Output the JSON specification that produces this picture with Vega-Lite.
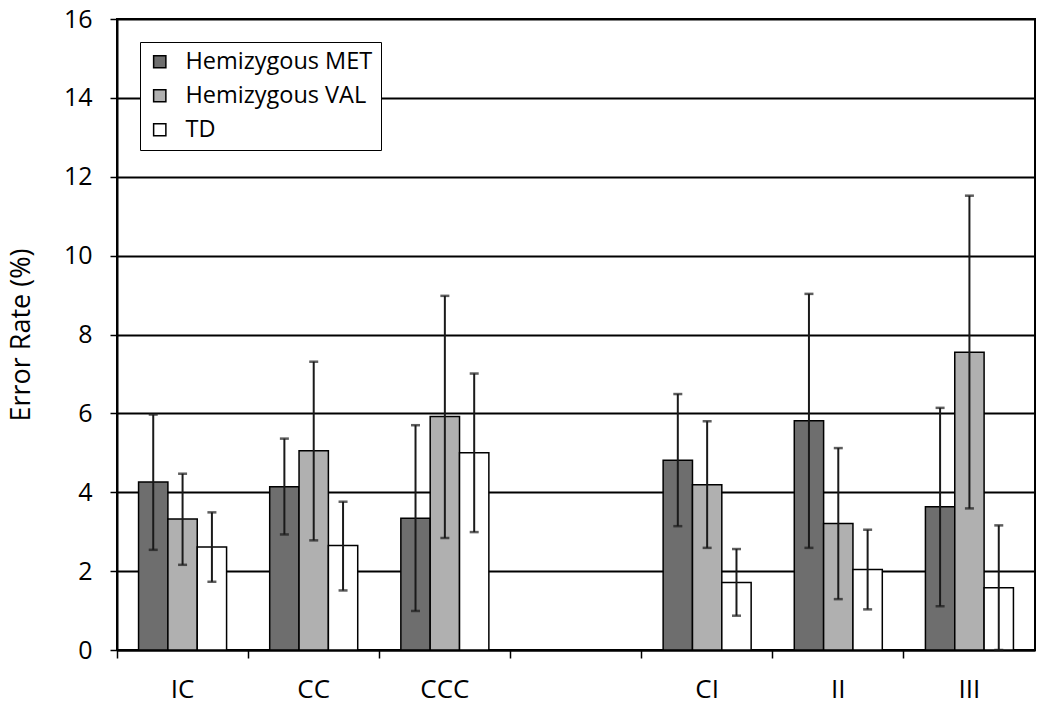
{
  "$schema": "https://vega.github.io/schema/vega-lite/v6.json",
  "autosize": {"type": "none"},
  "width": 918,
  "height": 631,
  "padding": {"left": 117, "top": 19, "right": 15, "bottom": 65},
  "background": "white",
  "config": {
    "view": {"stroke": "black", "strokeWidth": 2},
    "font": "Open Sans"
  },
  "data": {
    "values": [
      {"cat": "IC", "grp": "Hemizygous MET", "value": 4.26, "lo": 2.54, "hi": 5.97},
      {"cat": "IC", "grp": "Hemizygous VAL", "value": 3.32, "lo": 2.16, "hi": 4.47},
      {"cat": "IC", "grp": "TD", "value": 2.61, "lo": 1.73, "hi": 3.49},
      {"cat": "CC", "grp": "Hemizygous MET", "value": 4.14, "lo": 2.93, "hi": 5.36},
      {"cat": "CC", "grp": "Hemizygous VAL", "value": 5.05, "lo": 2.78, "hi": 7.31},
      {"cat": "CC", "grp": "TD", "value": 2.65, "lo": 1.51, "hi": 3.76},
      {"cat": "CCC", "grp": "Hemizygous MET", "value": 3.34, "lo": 0.99, "hi": 5.7},
      {"cat": "CCC", "grp": "Hemizygous VAL", "value": 5.92, "lo": 2.84, "hi": 8.98},
      {"cat": "CCC", "grp": "TD", "value": 5.0, "lo": 2.99, "hi": 7.01},
      {"cat": "CI", "grp": "Hemizygous MET", "value": 4.81, "lo": 3.14, "hi": 6.49},
      {"cat": "CI", "grp": "Hemizygous VAL", "value": 4.19, "lo": 2.59, "hi": 5.8},
      {"cat": "CI", "grp": "TD", "value": 1.71, "lo": 0.87, "hi": 2.56},
      {"cat": "II", "grp": "Hemizygous MET", "value": 5.81, "lo": 2.59, "hi": 9.03},
      {"cat": "II", "grp": "Hemizygous VAL", "value": 3.21, "lo": 1.29, "hi": 5.12},
      {"cat": "II", "grp": "TD", "value": 2.04, "lo": 1.03, "hi": 3.05},
      {"cat": "III", "grp": "Hemizygous MET", "value": 3.63, "lo": 1.11, "hi": 6.14},
      {"cat": "III", "grp": "Hemizygous VAL", "value": 7.55, "lo": 3.59, "hi": 11.52},
      {"cat": "III", "grp": "TD", "value": 1.58, "lo": 0.0, "hi": 3.16}
    ]
  },
  "encoding": {
    "x": {
      "field": "cat",
      "type": "nominal",
      "scale": {"domain": ["IC", "CC", "CCC", " ", "CI", "II", "III"], "paddingInner": 0, "paddingOuter": 0},
      "axis": {
        "title": null,
        "bandPosition": 0,
        "labelAngle": 0,
        "labelFontSize": 26,
        "labelColor": "black",
        "labelPadding": 18,
        "tickSize": 8,
        "tickColor": "black",
        "tickWidth": 1.5,
        "domainColor": "black",
        "domainWidth": 2
      }
    },
    "xOffset": {
      "field": "grp",
      "type": "nominal",
      "scale": {"domain": ["Hemizygous MET", "Hemizygous VAL", "TD"], "paddingInner": 0, "paddingOuter": 0.735}
    }
  },
  "layer": [
    {
      "mark": {"type": "bar", "stroke": "black", "strokeWidth": 1.5},
      "encoding": {
        "y": {
          "field": "value",
          "type": "quantitative",
          "title": "Error Rate (%)",
          "scale": {"domain": [0, 16], "nice": false},
          "axis": {
            "values": [0, 2, 4, 6, 8, 10, 12, 14, 16],
            "labelFontSize": 25,
            "labelColor": "black",
            "labelPadding": 18,
            "tickSize": 7,
            "tickColor": "black",
            "tickWidth": 1.5,
            "domainColor": "black",
            "domainWidth": 2,
            "grid": true,
            "gridColor": "black",
            "gridWidth": 1.8,
            "titleFontSize": 27,
            "titleFontWeight": "normal",
            "titleColor": "black",
            "titleX": -82
          }
        },
        "fill": {
          "field": "grp",
          "type": "nominal",
          "scale": {"domain": ["Hemizygous MET", "Hemizygous VAL", "TD"], "range": ["#6e6e6e", "#b0b0b0", "#ffffff"]},
          "legend": {
            "title": null,
            "orient": "none",
            "legendX": 23,
            "legendY": 23,
            "strokeColor": "black",
            "fillColor": "white",
            "padding": 8,
            "symbolType": "square",
            "symbolSize": 150,
            "symbolStrokeColor": "black",
            "symbolStrokeWidth": 1.5,
            "labelFontSize": 23.5,
            "labelColor": "black",
            "labelOffset": 14,
            "rowPadding": 9,
            "labelLimit": 300
          }
        }
      }
    },
    {
      "mark": {"type": "rule", "strokeWidth": 2, "color": "#1a1a1a"},
      "encoding": {
        "y": {"field": "lo", "type": "quantitative", "title": "Error Rate (%)"},
        "y2": {"field": "hi"}
      }
    },
    {
      "mark": {"type": "tick", "thickness": 2.5, "size": 9, "color": "#1a1a1a"},
      "encoding": {
        "y": {"field": "lo", "type": "quantitative", "title": "Error Rate (%)"}
      }
    },
    {
      "mark": {"type": "tick", "thickness": 2.5, "size": 9, "color": "#1a1a1a"},
      "encoding": {
        "y": {"field": "hi", "type": "quantitative", "title": "Error Rate (%)"}
      }
    }
  ]
}
